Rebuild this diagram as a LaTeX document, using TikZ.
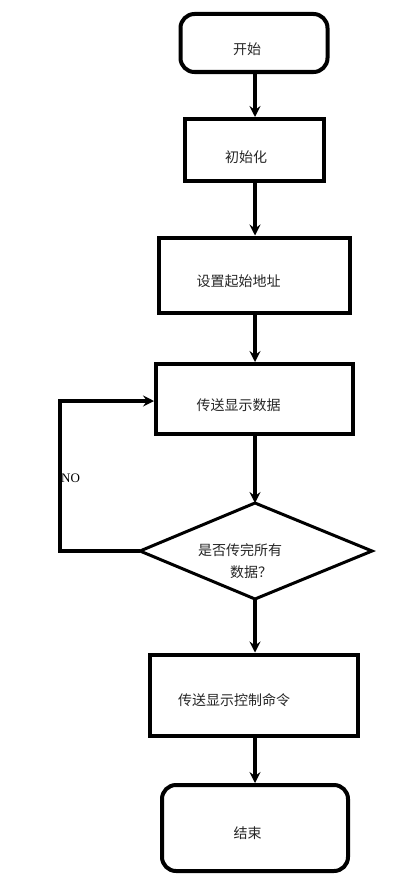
\documentclass[tikz,border=0pt]{standalone}
\usepackage{fontspec}
\newfontfamily\cjk{Noto Sans CJK SC}
\usetikzlibrary{arrows.meta}
\begin{document}
\begin{tikzpicture}[x=1pt,y=-1pt,
  box/.style={draw=black,line width=4pt,fill=white,inner sep=0pt},
  rbox/.style={box,rounded corners=14pt},
  txt/.style={font=\cjk\fontsize{14}{16}\selectfont,inner sep=0pt,text=black!85},
  flow/.style={line width=4pt,-{Stealth[length=11pt,width=11pt,inset=4pt]}},
  line/.style={line width=4pt}]
\useasboundingbox[fill=white] (0,0) rectangle (407,883);
\node[rbox,minimum width=147pt,minimum height=58pt] (start) at (254,43) {};
\node[txt] (tstart) at (247,49) {开始};
\node[box,minimum width=139pt,minimum height=62pt] (init) at (254.5,150) {};
\node[txt] (tinit) at (246,157) {初始化};
\node[box,minimum width=191pt,minimum height=75pt] (addr) at (254,275) {};
\node[txt] (taddr) at (238.5,281) {设置起始地址};
\node[box,minimum width=197pt,minimum height=70pt] (send) at (254.5,399) {};
\node[txt] (tsend) at (238.5,405) {传送显示数据};
\coordinate (dl) at (140,551);
\coordinate (dr) at (372,551);
\coordinate (dt) at (255,503);
\coordinate (db) at (255,599);
\draw[line width=3pt,fill=white,line join=miter] (dl) -- (dt) -- (dr) -- (db) -- cycle;
\node[txt] (tq1) at (240,550) {是否传完所有};
\node[txt] (tq2) at (251,572) {数据？};
\node[box,minimum width=208pt,minimum height=81pt] (ctrl) at (254,695) {};
\node[txt] (tctrl) at (234,700) {传送显示控制命令};
\node[rbox,minimum width=186pt,minimum height=86pt] (end) at (255,828) {};
\node[txt] (tend) at (247.5,833) {结束};
\node[font=\fontspec{Liberation Serif}\fontsize{13}{15}\selectfont,inner sep=0pt,anchor=west] (no) at (61,478) {NO};
\coordinate (c1) at (60,551);
\coordinate (c2) at (60,401);
\draw[flow] (start.south -| 255,0) -- (init.north -| 255,0);
\draw[flow] (init.south -| 255,0) -- (addr.north -| 255,0);
\draw[flow] (addr.south -| 255,0) -- (send.north -| 255,0);
\draw[flow] (send.south -| 255,0) -- (dt);
\draw[flow] (db) -- (ctrl.north -| 255,0);
\draw[flow] (ctrl.south -| 255,0) -- (end.north -| 255,0);
\draw[flow,line join=miter] (dl) -- (c1) -- (c2) -- (send.west |- c2);
\end{tikzpicture}
\end{document}
